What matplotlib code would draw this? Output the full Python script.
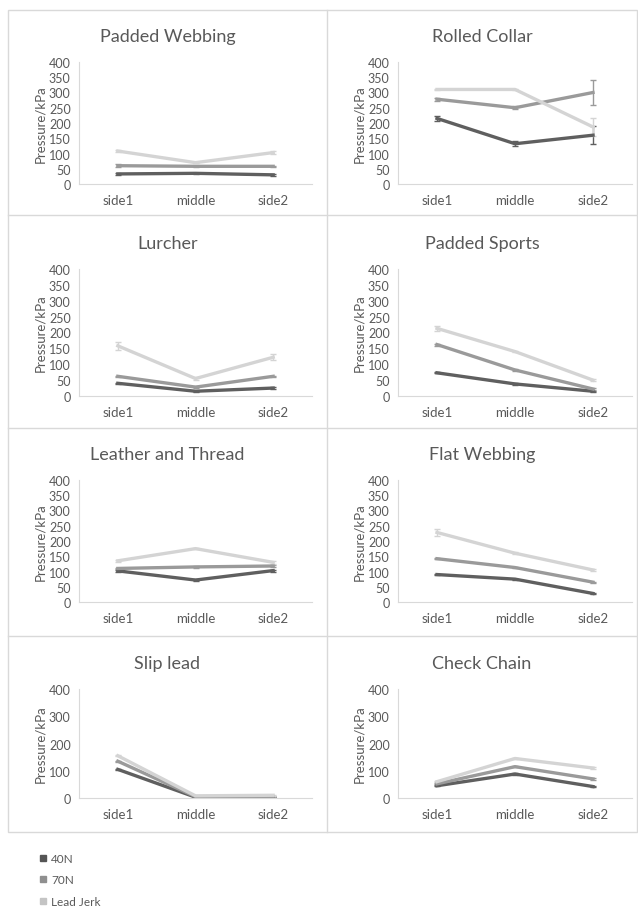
import numpy as np
import matplotlib.pyplot as plt
from matplotlib.lines import Line2D
from matplotlib.patches import Rectangle

plt.rcParams['font.family'] = ['Lato', 'DejaVu Sans']

# dane
pozycje = ['side1', 'middle', 'side2']
serie = ['40N', '70N', 'Lead Jerk']
kolory = ['#5f5f5f', '#9a9a9a', '#d4d4d4']
kolory_leg = ['#555555', '#8f8f8f', '#c4c4c4']

tytuly = ['Padded Webbing', 'Rolled Collar', 'Lurcher', 'Padded Sports',
          'Leather and Thread', 'Flat Webbing', 'Slip lead', 'Check Chain']

padded_webbing = [[33, 35, 30], [60, 58, 58], [108, 70, 103]]
padded_webbing_err = [[4, 2, 4], [5, 2, 2], [4, 2, 4]]
rolled_collar = [[215, 132, 160], [278, 250, 300], [310, 310, 187]]
rolled_collar_err = [[8, 8, 30], [5, 5, 42], [2, 2, 28]]
lurcher = [[40, 15, 25], [62, 28, 62], [158, 55, 122]]
lurcher_err = [[2, 2, 2], [2, 2, 2], [12, 5, 10]]
padded_sports = [[73, 38, 15], [162, 82, 22], [213, 140, 50]]
padded_sports_err = [[2, 2, 2], [3, 2, 2], [8, 2, 4]]
leather_thread = [[102, 72, 103], [110, 115, 118], [135, 175, 130]]
leather_thread_err = [[3, 2, 3], [2, 2, 4], [3, 2, 6]]
flat_webbing = [[90, 75, 28], [142, 113, 65], [228, 160, 105]]
flat_webbing_err = [[2, 2, 2], [2, 2, 2], [12, 4, 2]]
slip_lead = [[105, 3, 3], [135, 5, 5], [155, 8, 10]]
slip_lead_err = [[2, 1, 1], [2, 1, 1], [2, 1, 1]]
check_chain = [[45, 88, 42], [52, 115, 70], [60, 145, 110]]
check_chain_err = [[2, 2, 2], [2, 2, 3], [2, 2, 3]]

wartosci = [padded_webbing, rolled_collar, lurcher, padded_sports,
            leather_thread, flat_webbing, slip_lead, check_chain]
bledy = [padded_webbing_err, rolled_collar_err, lurcher_err, padded_sports_err,
         leather_thread_err, flat_webbing_err, slip_lead_err, check_chain_err]

W, H = 638, 912
fig = plt.figure(figsize=(W / 100, H / 100), dpi=100)

szary = '#595959'
ramka = '#d9d9d9'

# granice paneli (piksele)
wiersze = [11, 216, 429, 637, 833]
kolumny = [8, 327, 637]
osie_y = [(63, 185), (270, 397), (481, 603), (690, 799)]
osie_x = [(79, 312), (398, 632)]

# ramka i siatka paneli
fig.add_artist(Rectangle((kolumny[0] / W, 1 - wiersze[-1] / H),
                         (kolumny[2] - kolumny[0]) / W, (wiersze[-1] - wiersze[0]) / H,
                         transform=fig.transFigure, fill=False, edgecolor=ramka, lw=1))
fig.add_artist(Line2D([kolumny[1] / W] * 2, [1 - wiersze[0] / H, 1 - wiersze[-1] / H],
                      transform=fig.transFigure, color=ramka, lw=1))
for yy in wiersze[1:-1]:
    fig.add_artist(Line2D([kolumny[0] / W, kolumny[2] / W], [1 - yy / H] * 2,
                          transform=fig.transFigure, color=ramka, lw=1))

x = np.arange(len(pozycje))
for i, (tytul, dane, err) in enumerate(zip(tytuly, wartosci, bledy)):
    r, c = divmod(i, 2)
    x0, x1 = osie_x[c]
    ytop, ybot = osie_y[r]
    ax = fig.add_axes([x0 / W, 1 - ybot / H, (x1 - x0) / W, (ybot - ytop) / H])
    for k in range(len(serie)):
        ax.errorbar(x, dane[k], yerr=err[k], color=kolory[k], lw=2.4,
                    capsize=2.5, elinewidth=1, capthick=1, ecolor=kolory[k])
    ax.set_xlim(-0.5, 2.5)
    ax.set_ylim(0, 400)
    if r == 3:
        ax.set_yticks(np.arange(0, 401, 100))
    else:
        ax.set_yticks(np.arange(0, 401, 50))
    ax.set_xticks(x)
    ax.set_xticklabels(pozycje)
    ax.tick_params(length=0, colors=szary)
    ax.tick_params(axis='y', pad=6, labelsize=9)
    ax.tick_params(axis='x', pad=7, labelsize=9.5)
    for s in ['top', 'right']:
        ax.spines[s].set_visible(False)
    for s in ['left', 'bottom']:
        ax.spines[s].set_color(ramka)
    ax.set_ylabel('Pressure/kPa', color=szary, fontsize=9.5, labelpad=2)
    srodek = (kolumny[c] + kolumny[c + 1]) / 2
    fig.text(srodek / W, 1 - (ytop - 26) / H, tytul, ha='center', va='center',
             fontsize=13, color=szary)

uchwyty = [Line2D([], [], marker='s', ls='none', color=k, markersize=5) for k in kolory_leg]
fig.legend(uchwyty, serie, loc='upper left', bbox_to_anchor=(32 / W, 1 - 849 / H),
           frameon=False, fontsize=8.5, labelcolor=szary, labelspacing=0.9,
           handletextpad=0.2, handlelength=1.0, borderaxespad=0)

plt.savefig('out.png', dpi=100)
